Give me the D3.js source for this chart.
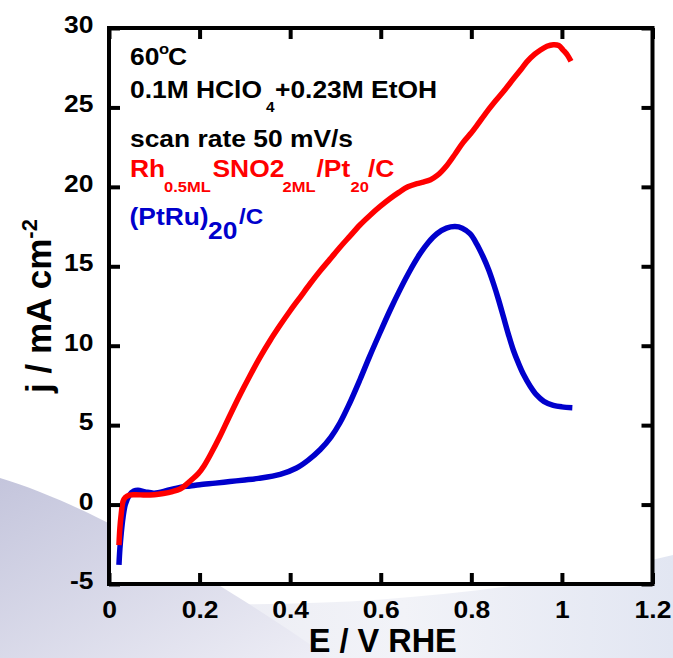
<!DOCTYPE html>
<html lang="en">
<head>
<meta charset="UTF-8">
<title>EtOH oxidation at 60C</title>
<style>
  body { margin: 0; background: #fff; }
  svg text { font-family: "Liberation Sans", Arial, sans-serif; font-weight: bold; }
</style>
</head>
<body>
<div id="chart"></div>
<script src="https://d3js.org/d3.v7.min.js"></script>
<script>
// ---- data ----
const xTicks = [0, 0.2, 0.4, 0.6, 0.8, 1, 1.2]
const yTicks = [-5, 0, 5, 10, 15, 20, 25, 30]

// (PtRu)20/C
const ptruE = [0.022, 0.024, 0.027, 0.031, 0.036, 0.045, 0.055, 0.064, 0.08, 0.10, 0.13, 0.159, 0.179, 0.20, 0.235, 0.267, 0.30, 0.33, 0.378, 0.414, 0.44, 0.466, 0.49, 0.51, 0.53, 0.554, 0.575, 0.598, 0.62, 0.642, 0.665, 0.687, 0.705, 0.724, 0.745, 0.764, 0.78, 0.797, 0.812, 0.826, 0.838, 0.849, 0.86, 0.871, 0.882, 0.893, 0.904, 0.915, 0.93, 0.944, 0.96, 0.981, 1.0, 1.023]
const ptruJ = [-3.8, -2.8, -1.8, -0.8, 0.0, 0.6, 0.85, 0.9, 0.8, 0.72, 0.9, 1.1, 1.17, 1.25, 1.35, 1.45, 1.55, 1.65, 1.9, 2.3, 2.8, 3.45, 4.25, 5.15, 6.3, 7.86, 9.3, 10.8, 12.2, 13.5, 14.75, 15.8, 16.5, 17.05, 17.4, 17.5, 17.4, 17.05, 16.4, 15.6, 14.8, 13.9, 12.9, 11.8, 10.7, 9.7, 8.9, 8.2, 7.45, 6.9, 6.5, 6.25, 6.15, 6.1]

// Rh0.5ML SnO2 2ML / Pt20 / C
const rhE = [0.022, 0.024, 0.027, 0.031, 0.036, 0.045, 0.06, 0.08, 0.10, 0.12, 0.14, 0.157, 0.168, 0.18, 0.197, 0.21, 0.225, 0.245, 0.265, 0.289, 0.31, 0.333, 0.355, 0.378, 0.40, 0.422, 0.444, 0.466, 0.488, 0.51, 0.532, 0.554, 0.576, 0.598, 0.62, 0.64, 0.66, 0.68, 0.694, 0.71, 0.724, 0.746, 0.765, 0.782, 0.8, 0.812, 0.835, 0.856, 0.875, 0.893, 0.91, 0.922, 0.94, 0.952, 0.967, 0.981, 0.993, 1.003, 1.012, 1.02]
const rhJ = [-2.55, -1.5, -0.6, 0.2, 0.45, 0.6, 0.62, 0.6, 0.62, 0.7, 0.82, 0.98, 1.2, 1.5, 1.95, 2.45, 3.2, 4.3, 5.5, 6.9, 8.05, 9.25, 10.3, 11.3, 12.2, 13.05, 13.9, 14.7, 15.45, 16.2, 16.9, 17.6, 18.2, 18.75, 19.25, 19.65, 20.0, 20.2, 20.3, 20.45, 20.7, 21.35, 22.1, 22.8, 23.4, 23.85, 24.75, 25.5, 26.15, 26.8, 27.4, 27.85, 28.35, 28.6, 28.85, 28.95, 28.9, 28.6, 28.3, 27.9]

const W = 673, H = 658
const PLOT = { LEFT: 109, RIGHT: 652.5, TOP: 28, BOTTOM: 584 }

const svg = d3.select("#chart").append("svg")
    .attr("width", W).attr("height", H)

// faint slide background swooshes
const defs = svg.append("defs")
const g1 = defs.append("linearGradient").attr("id", "swoosh1")
    .attr("x1", "0%").attr("y1", "0%").attr("x2", "100%").attr("y2", "100%")
g1.append("stop").attr("offset", "0%").attr("stop-color", "#c4c5dc")
g1.append("stop").attr("offset", "100%").attr("stop-color", "#eeeef6")
const g2 = defs.append("linearGradient").attr("id", "swoosh2")
    .attr("x1", "0%").attr("y1", "0%").attr("x2", "100%").attr("y2", "0%")
g2.append("stop").attr("offset", "0%").attr("stop-color", "#e6e6f0")
g2.append("stop").attr("offset", "60%").attr("stop-color", "#f2f3f8")
g2.append("stop").attr("offset", "100%").attr("stop-color", "#e2e6f2")

svg.append("rect").attr("width", W).attr("height", H).attr("fill", "#fff")
svg.append("path")
    .attr("d", "M0,590 C200,615 450,610 673,555 L673,658 L0,658 Z")
    .attr("fill", "url(#swoosh2)")
svg.append("path")
    .attr("d", "M0,478 C90,505 210,575 330,658 L0,658 Z")
    .attr("fill", "url(#swoosh1)")

// white plot area
svg.append("rect")
    .attr("x", PLOT.LEFT).attr("y", PLOT.TOP)
    .attr("width", PLOT.RIGHT - PLOT.LEFT).attr("height", PLOT.BOTTOM - PLOT.TOP)
    .attr("fill", "#fff")

const x = d3.scaleLinear().domain([0, 1.2]).range([PLOT.LEFT, PLOT.RIGHT])
const y = d3.scaleLinear().domain([-5, 30]).range([PLOT.BOTTOM, PLOT.TOP])

const line = d3.line()
    .x(d => x(d[0]))
    .y(d => y(d[1]))
    .curve(d3.curveCatmullRom.alpha(0.5))

svg.append("path")
    .datum(d3.zip(ptruE, ptruJ))
    .attr("d", line)
    .attr("fill", "none")
    .attr("stroke", "#0000cc")
    .attr("stroke-width", 5.5)

svg.append("path")
    .datum(d3.zip(rhE, rhJ))
    .attr("d", line)
    .attr("fill", "none")
    .attr("stroke", "#ff0000")
    .attr("stroke-width", 5.5)

// axes, ticks pointing inward
const TICK = 11
const fmt = d => String(d)

const styleAxis = sel => {
    sel.select(".domain").remove()
    sel.selectAll(".tick line").attr("stroke", "#000").attr("stroke-width", 4)
}

svg.append("g")
    .attr("transform", `translate(0, ${PLOT.BOTTOM})`)
    .call(d3.axisBottom(x).tickValues(xTicks).tickFormat(fmt).tickSizeInner(-TICK).tickSizeOuter(0))
    .call(styleAxis)
    .selectAll("text")
    .attr("y", null).attr("dy", null)
    .attr("transform", "translate(0, 34) scale(1.15, 1)")
    .attr("font-size", 23)
    .attr("font-family", "Liberation Sans, Arial, sans-serif")
    .attr("fill", "#000")

svg.append("g")
    .attr("transform", `translate(${PLOT.LEFT}, 0)`)
    .call(d3.axisLeft(y).tickValues(yTicks).tickFormat(fmt).tickSizeInner(-TICK).tickSizeOuter(0))
    .call(styleAxis)
    .selectAll("text")
    .attr("x", null).attr("dy", null)
    .attr("transform", "translate(-15.5, 4.5) scale(1.15, 1)")
    .attr("font-size", 23)
    .attr("font-family", "Liberation Sans, Arial, sans-serif")
    .attr("fill", "#000")

svg.append("g")
    .attr("transform", `translate(0, ${PLOT.TOP})`)
    .call(d3.axisTop(x).tickValues(xTicks).tickFormat("").tickSizeInner(-TICK).tickSizeOuter(0))
    .call(styleAxis)

svg.append("g")
    .attr("transform", `translate(${PLOT.RIGHT}, 0)`)
    .call(d3.axisRight(y).tickValues(yTicks).tickFormat("").tickSizeInner(-TICK).tickSizeOuter(0))
    .call(styleAxis)

// frame
svg.append("rect")
    .attr("x", PLOT.LEFT).attr("y", PLOT.TOP)
    .attr("width", PLOT.RIGHT - PLOT.LEFT).attr("height", PLOT.BOTTOM - PLOT.TOP)
    .attr("fill", "none").attr("stroke", "#000").attr("stroke-width", 4)

// axis titles
svg.append("text")
    .attr("x", (PLOT.LEFT + PLOT.RIGHT) / 2 + 2).attr("y", 652)
    .attr("text-anchor", "middle").attr("font-size", 32.5)
    .text("E / V RHE")

const yt = svg.append("text")
    .attr("transform", "translate(51, 306) rotate(-90)")
    .attr("text-anchor", "middle").attr("font-size", 35)
yt.append("tspan").text("j / mA cm")
yt.append("tspan").attr("font-size", 22).attr("dy", -14).text("-2")

// annotation block (pieces placed one by one, stretched a little like the original)
const SX = 1.1
const note = (txt, px, py, size, color) =>
    svg.append("text")
        .attr("transform", `translate(${px}, ${py}) scale(${SX}, 1)`)
        .attr("font-size", size).attr("fill", color)
        .text(txt)

note("60", 130, 65, 24, "#000")
note("o", 159, 54, 15, "#000")
note("C", 168, 65, 24, "#000")

note("0.1M HClO", 130, 98, 24, "#000")
note("4", 266, 111.5, 14, "#000")
note("+0.23M EtOH", 275, 98, 24, "#000")

note("scan rate 50 mV/s", 130, 146.5, 24, "#000")

note("Rh", 130, 176.5, 24, "#ff0000")
note("0.5ML", 164, 191.5, 15, "#ff0000")
note("SNO2", 212.5, 176.5, 24, "#ff0000")
note("2ML", 282.5, 191.5, 15, "#ff0000")
note("/Pt", 316.5, 176.5, 24, "#ff0000")
note("20", 350.5, 191.5, 15, "#ff0000")
note("/C", 368, 176.5, 24, "#ff0000")

note("(PtRu)", 129.5, 225, 24, "#0000cc")
note("20", 208, 238.5, 24, "#0000cc")
note("/C", 239, 224, 22, "#0000cc")
</script>
</body>
</html>
